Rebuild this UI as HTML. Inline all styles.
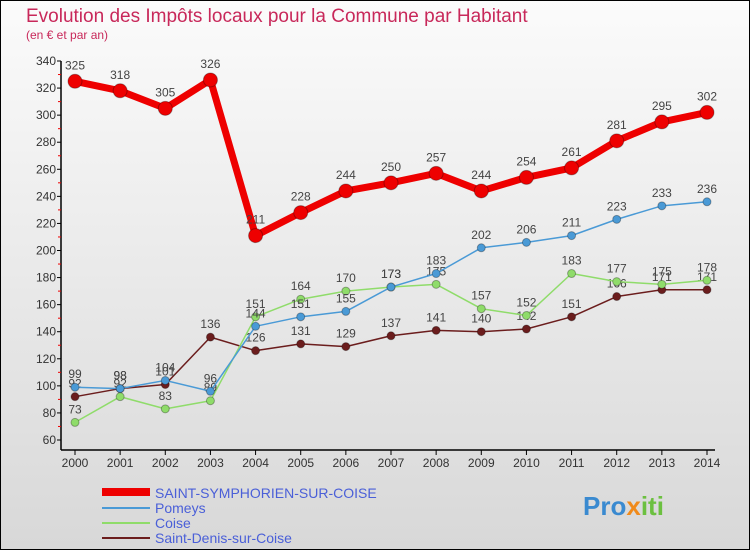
<!DOCTYPE html>
<html><head><meta charset="utf-8"><style>
body{margin:0}
svg{display:block;font-family:"Liberation Sans",sans-serif}
</style></head><body>
<svg width="750" height="550" viewBox="0 0 750 550">
<defs><linearGradient id="bg" x1="0" y1="0" x2="0" y2="1"><stop offset="0" stop-color="#fbfbfb"/><stop offset="1" stop-color="#d8d8d8"/></linearGradient></defs>
<rect x="0.5" y="0.5" width="749" height="549" fill="url(#bg)" stroke="#000"/>
<text x="26" y="22" font-size="19" fill="#c8285a">Evolution des Impôts locaux pour la Commune par Habitant</text>
<text x="26" y="39" font-size="12" fill="#c8285a">(en € et par an)</text>
<g id="axes"></g>
<g id="series"></g>
<g>
<line x1="102" y1="492" x2="150" y2="492" stroke="#e00" stroke-width="8"/>
<text x="155" y="498" font-size="14" fill="#4a5fd8">SAINT-SYMPHORIEN-SUR-COISE</text>
<line x1="102" y1="508" x2="150" y2="508" stroke="#4a9ad6" stroke-width="2"/>
<text x="155" y="513" font-size="14" fill="#4a5fd8">Pomeys</text>
<line x1="102" y1="523" x2="150" y2="523" stroke="#8fdc6a" stroke-width="2"/>
<text x="155" y="528" font-size="14" fill="#4a5fd8">Coise</text>
<line x1="102" y1="538" x2="150" y2="538" stroke="#6b1d1d" stroke-width="2"/>
<text x="155" y="543" font-size="14" fill="#4a5fd8">Saint-Denis-sur-Coise</text>
</g>
<text x="583" y="515" font-size="26" font-weight="bold" fill="#3a8ad0">Pro<tspan fill="#f08a1a">x</tspan><tspan fill="#6cc040">iti</tspan></text>
</svg>
<script>
const years=[2000,2001,2002,2003,2004,2005,2006,2007,2008,2009,2010,2011,2012,2013,2014];
const yTicks=[60,80,100,120,140,160,180,200,220,240,260,280,300,320,340];
const stSymphorien=[325,318,305,326,211,228,244,250,257,244,254,261,281,295,302];
const pomeys=[99,98,104,96,144,151,155,173,183,202,206,211,223,233,236];
const coise=[73,92,83,89,151,164,170,173,175,157,152,183,177,175,178];
const stDenis=[92,98,101,136,126,131,129,137,141,140,142,151,166,171,171];
const NS="http://www.w3.org/2000/svg";
const xS=i=>75+i*(707-75)/(years.length-1);
const yS=v=>440-(v-60)*(440-61)/280;
function mk(p,tag,at){const e=document.createElementNS(NS,tag);for(const k in at)e.setAttribute(k,at[k]);p.appendChild(e);return e;}
const ax=document.getElementById('axes');
let a=mk(ax,'line',{x1:61,y1:61,x2:61,y2:450,stroke:'#000','stroke-width':1.5});


a=mk(ax,'line',{x1:61,y1:450,x2:715,y2:450,stroke:'#000','stroke-width':1.5});


yTicks.forEach((v,i)=>{const y=yS(v);
 mk(ax,'line',{x1:57,y1:y,x2:61,y2:y,stroke:'#000'});
 if(i<yTicks.length-1)mk(ax,'line',{x1:58,y1:(y+yS(yTicks[i+1]))/2,x2:61,y2:(y+yS(yTicks[i+1]))/2,stroke:'#e00'});
 const t=mk(ax,'text',{x:56,y:y+4,'font-size':12,'text-anchor':'end',fill:'#333'});t.textContent=v;
 
 });
years.forEach((yr,i)=>{const x=xS(i);
 mk(ax,'line',{x1:x,y1:450,x2:x,y2:455,stroke:'#000'});
 const t=mk(ax,'text',{x:x,y:467,'font-size':12,'text-anchor':'middle',fill:'#333'});t.textContent=yr;
 
 });
const sg=document.getElementById('series');
function draw(vals,color,w,r,name){
 const g=mk(sg,'g',{});
 
 
 mk(g,'polyline',{points:vals.map((v,i)=>xS(i)+','+yS(v)).join(' '),fill:'none',stroke:color,'stroke-width':w,'stroke-linejoin':'round'});
 vals.forEach((v,i)=>{const c=mk(g,'circle',{cx:xS(i),cy:yS(v),r:r,fill:color,stroke:'rgba(0,0,0,0.3)'});
  
  
  const t=mk(g,'text',{x:xS(i),y:yS(v)-r-5,'font-size':12,'text-anchor':'middle',fill:'#444'});t.textContent=v;
  
  });
}
draw(stDenis,'#6b1d1d',1.5,4,'series-saint-denis');
draw(coise,'#8fdc6a',1.5,4,'series-coise');
draw(pomeys,'#4a9ad6',1.5,4,'series-pomeys');
draw(stSymphorien,'#e00',7,7,'series-saint-symphorien');
</script>
</body></html>
